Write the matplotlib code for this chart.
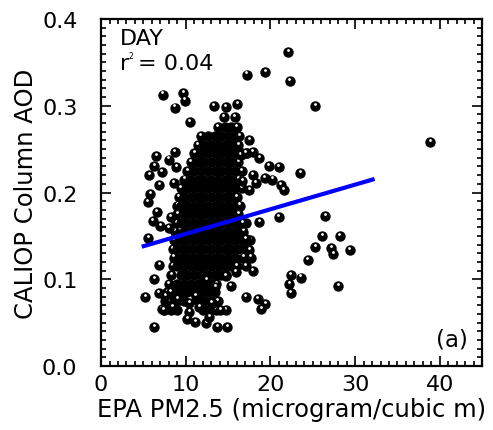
import matplotlib
matplotlib.use("Agg")
import matplotlib.pyplot as plt
import matplotlib.transforms as mtransforms
from matplotlib.ticker import MultipleLocator

plt.rcParams["font.family"] = ["DejaVu Sans"]

# dense core of the cloud: one AOD level per row, PM2.5 values along it
core_aod = [0.275, 0.265, 0.255, 0.245, 0.235, 0.225, 0.215, 0.205, 0.195,
            0.185, 0.175, 0.165, 0.155, 0.145, 0.135, 0.125, 0.115, 0.105,
            0.095, 0.085, 0.075, 0.065]
core_pm = [
    [13.8, 14.6, 15.4, 16.0],
    [11.8, 12.6, 13.4, 14.2, 15.0, 15.8, 16.3],
    [11.4, 12.2, 13.0, 13.8, 14.6, 15.4, 16.2],
    [11.0, 11.8, 12.6, 13.4, 14.2, 15.0, 15.8, 16.6, 17.2],
    [10.6, 11.4, 12.2, 13.0, 13.8, 14.6, 15.4, 16.2],
    [10.2, 11.0, 11.8, 12.6, 13.4, 14.2, 15.0, 15.8, 16.6],
    [9.8, 10.6, 11.4, 12.2, 13.0, 13.8, 14.6, 15.4, 16.2],
    [9.4, 10.2, 11.0, 11.8, 12.6, 13.4, 14.2, 15.0, 15.8, 16.6],
    [9.2, 9.8, 10.6, 11.4, 12.2, 13.0, 13.8, 14.6, 15.4, 16.0],
    [9.0, 9.4, 10.2, 11.0, 11.8, 12.6, 13.4, 14.2, 15.0, 15.8, 16.4],
    [9.0, 9.8, 10.6, 11.4, 12.2, 13.0, 13.8, 14.6, 15.4, 16.2],
    [8.9, 9.4, 10.2, 11.0, 11.8, 12.6, 13.4, 14.2, 15.0, 15.8, 16.6, 17.1],
    [8.7, 9.8, 10.6, 11.4, 12.2, 13.0, 13.8, 14.6, 15.4, 16.2, 16.8],
    [8.6, 9.4, 10.2, 11.0, 11.8, 12.6, 13.4, 14.2, 15.0, 15.8, 16.6, 17.6],
    [8.5, 9.0, 9.8, 10.6, 11.4, 12.2, 13.0, 13.8, 14.6, 15.4, 16.2, 17.0, 17.4],
    [8.6, 9.4, 10.2, 11.0, 11.8, 12.6, 13.4, 14.2, 15.0, 15.8, 16.8],
    [8.5, 9.0, 9.8, 10.6, 11.4, 12.2, 13.0, 13.8, 14.6, 15.4, 16.0],
    [8.3, 9.4, 10.2, 11.0, 11.8, 12.6, 13.4, 14.2, 14.8],
    [8.0, 9.0, 9.8, 10.6, 11.4, 12.2, 13.0, 13.6],
    [7.8, 8.6, 9.4, 10.2, 11.0, 11.8, 12.6, 13.4],
    [7.6, 8.4, 9.0, 9.8, 11.4, 12.2, 13.0, 13.8],
    [7.4, 8.2, 9.0, 12.0, 12.8, 13.6],
]

# scattered points around the core
pm_scatter = [22.1, 17.2, 19.4, 22.3, 7.3, 9.7, 9.9, 8.7, 25.3, 10.5, 13.3, 14.7,
              16.1, 14.5, 15.8, 38.9, 17.5, 23.5, 21.0, 19.8, 18.7, 17.9, 17.9,
              26.5, 21.0, 18.7, 26.1, 28.2, 25.3, 27.2, 27.4, 29.4, 24.4, 22.4,
              22.2, 23.6, 22.4, 28.0, 17.1, 18.5, 19.4, 18.9, 17.9, 5.2, 6.3,
              6.8, 5.6, 6.3, 6.9, 6.6, 6.1, 5.5, 5.8, 6.9, 5.7, 6.3, 6.5, 7.2,
              8.0, 8.7, 8.6, 8.2, 7.0, 8.0, 8.9, 11.1, 12.4, 13.7, 14.9, 10.4,
              10.2, 14.7, 13.5, 15.3, 12.4, 11.2, 7.2, 8.0, 7.6, 19.3, 20.2,
              21.2, 21.6, 18.3, 17.5, 16.7, 16.7, 17.1, 17.5, 17.7, 17.1, 15.9,
              14.7, 16.5, 17.1, 10.4, 11.6, 13.1, 14.1, 12.8, 8.4, 7.4, 8.2, 9.0]
aod_scatter = [0.362, 0.336, 0.339, 0.328, 0.313, 0.315, 0.306, 0.298, 0.300,
               0.281, 0.300, 0.299, 0.302, 0.287, 0.287, 0.258, 0.261, 0.222,
               0.229, 0.230, 0.240, 0.247, 0.220, 0.173, 0.172, 0.166, 0.150,
               0.150, 0.137, 0.136, 0.129, 0.134, 0.122, 0.105, 0.095, 0.102,
               0.084, 0.092, 0.079, 0.077, 0.071, 0.066, 0.110, 0.080, 0.045,
               0.084, 0.148, 0.100, 0.116, 0.178, 0.167, 0.189, 0.198, 0.209,
               0.220, 0.231, 0.242, 0.224, 0.238, 0.247, 0.211, 0.172, 0.161,
               0.159, 0.229, 0.051, 0.050, 0.045, 0.045, 0.062, 0.054, 0.064,
               0.091, 0.092, 0.099, 0.081, 0.066, 0.075, 0.081, 0.217, 0.215,
               0.209, 0.203, 0.211, 0.203, 0.213, 0.165, 0.146, 0.134, 0.125,
               0.115, 0.108, 0.104, 0.243, 0.245, 0.073, 0.068, 0.073, 0.064,
               0.056, 0.068, 0.064, 0.085, 0.077]

# regression line
fit_pm = [4.8, 32.3]
fit_slope = 0.00284
fit_intercept = 0.1239

# (pm, aod, show glint): inside the core the glints are hidden by neighbours
points = []
for y, row in zip(core_aod, core_pm):
    for i, x in enumerate(row):
        points.append((x, y, i in (0, len(row) - 1)))
points += [(x, y, True) for x, y in zip(pm_scatter, aod_scatter)]

fig = plt.figure(figsize=(4.93, 4.31), dpi=100)
ax = fig.add_axes([0.205, 0.1485, 0.773, 0.805])

glint = mtransforms.offset_copy(ax.transData, fig=fig, x=-0.4, y=1.5, units="points")
for x, y, shine in points:
    ax.plot(x, y, "o", color="black", ms=7.5, mew=0, zorder=2)
    if shine:
        ax.plot(x, y, "o", color="white", ms=2.0, mew=0, zorder=2, transform=glint)

ax.plot(fit_pm, [fit_intercept + fit_slope * x for x in fit_pm],
        color="#0000ff", lw=3.0, solid_capstyle="butt", zorder=3)

ax.set_xlim(0, 45)
ax.set_ylim(0, 0.4)
ax.xaxis.set_major_locator(MultipleLocator(10))
ax.xaxis.set_minor_locator(MultipleLocator(1))
ax.yaxis.set_major_locator(MultipleLocator(0.1))
ax.yaxis.set_minor_locator(MultipleLocator(0.01))
ax.yaxis.set_major_formatter(plt.FormatStrFormatter("%.1f"))

ax.tick_params(which="both", direction="in", top=True, right=True,
               width=1.2, labelsize=16, colors="black")
ax.tick_params(which="major", length=7.5)
ax.tick_params(which="minor", length=3.8)
ax.tick_params(axis="x", which="major", pad=6)
ax.tick_params(axis="y", which="major", pad=17)
for spine in ax.spines.values():
    spine.set_linewidth(1.6)

ax.set_xlabel("EPA PM2.5 (microgram/cubic m)", fontsize=17.5, labelpad=2)
ax.set_ylabel("CALIOP Column AOD", fontsize=17.5, labelpad=3)

ax.text(0.05, 0.975, "DAY", transform=ax.transAxes, fontsize=16,
        ha="left", va="top")
ax.text(0.05, 0.855, "r", transform=ax.transAxes, fontsize=16,
        ha="left", va="baseline")
ax.annotate("2", xy=(0.05, 0.855), xycoords="axes fraction", xytext=(6, 8),
            textcoords="offset points", fontsize=5.5, ha="left", va="baseline")
ax.annotate("= 0.04", xy=(0.05, 0.855), xycoords="axes fraction",
            xytext=(13, 0), textcoords="offset points", fontsize=16,
            ha="left", va="baseline")
ax.text(0.963, 0.06, "(a)", transform=ax.transAxes, fontsize=16.5,
        ha="right", va="baseline")

fig.savefig("out.png", dpi=100)
plt.close(fig)
